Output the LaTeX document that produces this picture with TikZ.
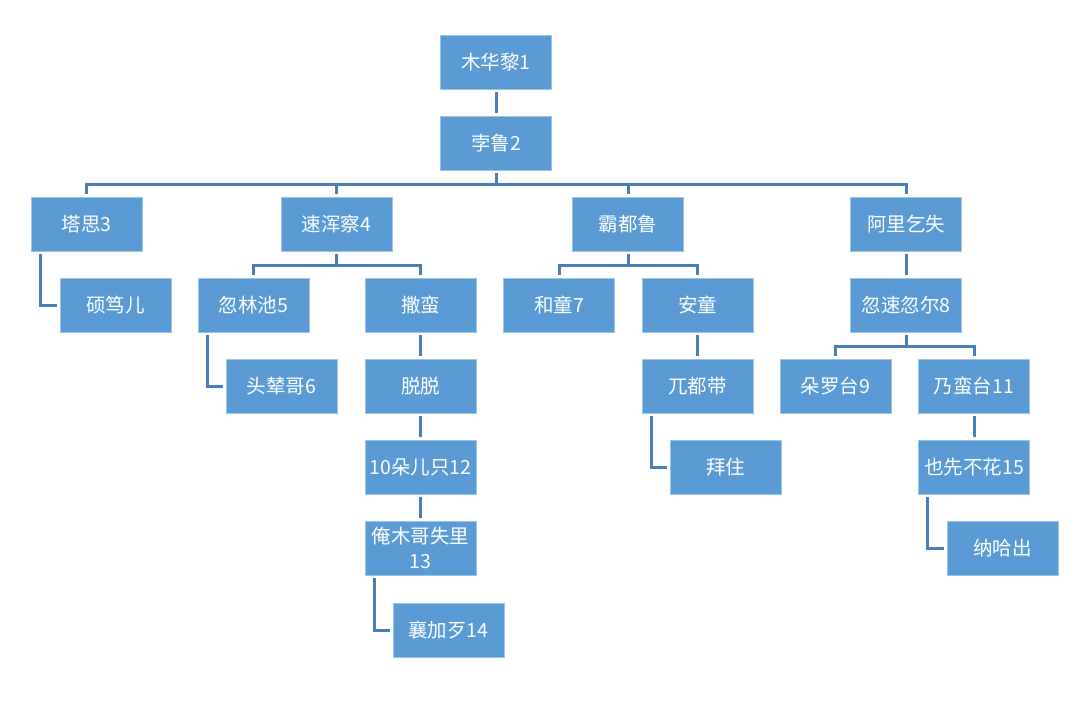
\documentclass[tikz,border=0pt]{standalone}
\usepackage{fontspec}
\newfontfamily\cjk{Noto Sans CJK SC}
\definecolor{boxblue}{HTML}{5B9BD5}
\definecolor{boxedge}{HTML}{9DC3E6}
\definecolor{linkblue}{HTML}{4A7EBB}
\begin{document}
\begin{tikzpicture}[x=1pt,y=-1pt,
  person/.style={rectangle,fill=boxblue,draw=boxedge,line width=0.8pt,
    minimum width=111pt,minimum height=54pt,inner sep=1pt,outer sep=3pt,
    text=white,font=\cjk\fontsize{19.5}{25}\selectfont,align=center},
  link/.style={draw=linkblue,line width=3pt}]
\useasboundingbox (0,0) rectangle (1080,723);
% nodes (centres in pixels)
\node[person] (n1)  at (496,62)    {木华黎1};
\node[person] (n2)  at (496,143)   {孛鲁2};
\node[person] (n3)  at (86.5,224)  {塔思3};
\node[person] (n4)  at (336.5,224) {速浑察4};
\node[person] (nb)  at (628,224)   {霸都鲁};
\node[person] (na)  at (906,224)   {阿里乞失};
\node[person] (ns)  at (115.5,305) {硕笃儿};
\node[person] (n5)  at (253.5,305) {忽林池5};
\node[person] (nsm) at (420.5,305) {撒蛮};
\node[person] (n7)  at (559,305)   {和童7};
\node[person] (nat) at (697.5,305) {安童};
\node[person] (n8)  at (906,305)   {忽速忽尔8};
\node[person] (n6)  at (281.5,386) {头辇哥6};
\node[person] (ntt) at (420.5,386) {脱脱};
\node[person] (nwd) at (697.5,386) {兀都带};
\node[person] (n9)  at (835.5,386) {朵罗台9};
\node[person] (n11) at (974,386)   {乃蛮台11};
\node[person] (n12) at (420.5,467) {10朵儿只12};
\node[person] (nbz) at (725.5,467) {拜住};
\node[person] (n15) at (974,467)   {也先不花15};
\node[person] (n13) at (420.5,548) {俺木哥失里\\13};
\node[person] (nnh) at (1002.5,548) {纳哈出};
\node[person] (n14) at (448.5,630) {襄加歹14};
% straight links
\draw[link] (n1.south) -- (n2.north);
\draw[link] (na.south) -- (n8.north);
\draw[link] (nsm.south) -- (ntt.north);
\draw[link] (ntt.south) -- (n12.north);
\draw[link] (n12.south) -- (n13.north);
\draw[link] (nat.south) -- (nwd.north);
\draw[link] (n11.south) -- (n15.north);
% bracket links
\foreach \c in {n3,n4,nb,na} \draw[link] (n2.south) -- ++(0,11) -| (\c.north);
\foreach \c in {n5,nsm} \draw[link] (n4.south) -- ++(0,11) -| (\c.north);
\foreach \c in {n7,nat} \draw[link] (nb.south) -- ++(0,11) -| (\c.north);
\foreach \c in {n9,n11} \draw[link] (n8.south) -- ++(0,11) -| (\c.north);
% side links
\draw[link] ([xshift=12pt]n3.south west) |- (ns.west);
\draw[link] ([xshift=12pt]n5.south west) |- (n6.west);
\draw[link] ([xshift=12pt]n13.south west) |- (n14.west);
\draw[link] ([xshift=12pt]nwd.south west) |- (nbz.west);
\draw[link] ([xshift=12pt]n15.south west) |- (nnh.west);
\end{tikzpicture}
\end{document}
